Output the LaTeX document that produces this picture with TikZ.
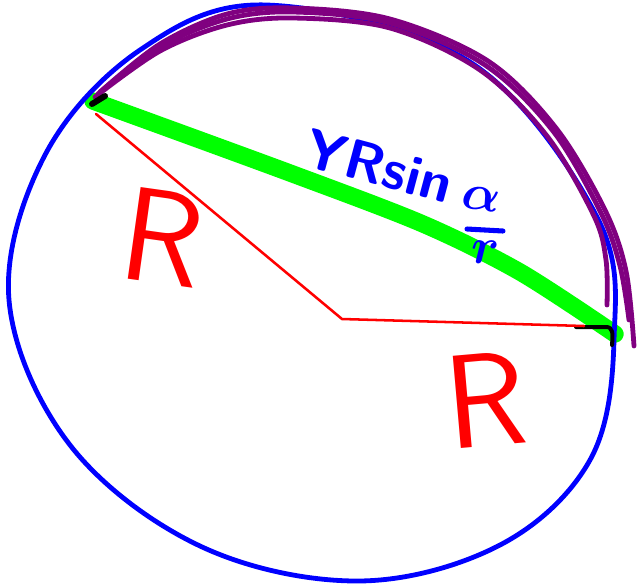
\RequirePackage{fix-cm}
\documentclass[tikz,border=0pt]{standalone}
\begin{document}
\begin{tikzpicture}[x=0.75pt,y=-0.75pt,line cap=round,line join=round]
\definecolor{penblue}{RGB}{0,0,255}
\definecolor{penred}{RGB}{255,0,0}
\definecolor{penpurple}{RGB}{128,0,128}
\definecolor{pengreen}{RGB}{0,255,0}
\tikzset{
  bluepen/.style={draw=penblue,line width=3.6pt},
  greenpen/.style={draw=pengreen,line width=13pt},
  purplepen/.style={draw=penpurple,line width=3.6pt},
  redpen/.style={draw=penred,line width=1.9pt},
  blackpen/.style={draw=black,line width=4.5pt},
  bluetext/.style={text=penblue,font=\sffamily\bfseries\fontsize{42}{42}\selectfont,inner sep=0pt},
  fractext/.style={text=penblue,font=\boldmath\fontsize{38}{38}\selectfont,inner sep=0pt},
  redtext/.style={text=penred,font=\sffamily\fontsize{100}{100}\selectfont,inner sep=0pt},
}
\useasboundingbox (0,0) rectangle (642,587);
\fill[white] (0,0) rectangle (642,587);
% key points
\coordinate (A) at (93,101);
\coordinate (B) at (615,334);
\coordinate (O) at (342,319);
\coordinate (Ar) at (96,114);
\coordinate (Br) at (584,326);
% green chord
\draw[greenpen] plot[smooth,tension=0.5] coordinates {(A) (290,173) (423,224) (520,272) (B)};
% blue circle
\draw[bluepen] plot[smooth cycle,tension=0.6] coordinates {
 (267,5) (470,62) (597,217) (614,340) (590,460) (500,545) (358,581)
 (200,546) (70,445) (9,300) (45,155) (140,50)};
% purple arcs
\draw[purplepen] plot[smooth,tension=0.55] coordinates {(95,97) (160,51) (227,25) (293,18) (390,28) (480,70) (547,136) (594,216) (606,260) (607,305)};
\draw[purplepen] plot[smooth,tension=0.55] coordinates {(98,94) (160,47) (227,19) (293,12) (390,23) (485,65) (553,131) (601,213) (620,266) (629,320)};
\draw[purplepen] plot[smooth,tension=0.55] coordinates {(100,92) (160,44) (227,14) (293,8) (390,19) (488,61) (556,128) (605,210) (626,271) (634,346)};
% black marks
\draw[blackpen] (92,104) -- (105,96);
\draw[blackpen,line width=3pt] (576,327) -- (606,327) .. controls (613,327) and (613,333) .. (612,345);
% red radii
\draw[redpen] (Ar) -- (O) -- (Br);
% labels
\node[bluetext,rotate=-15] (lbl) at (379,166) {YRsin};
\node[fractext,rotate=-8] (alpha) at (481,199) {$\alpha$};
\coordinate (barL) at (467,229);
\coordinate (barR) at (503,231);
\draw[draw=penblue,line width=3.8pt] (barL) -- (barR);
\node[fractext] (rr) at (486,252) {$r$};
\node[redtext,rotate=-8] (R1) at (163,237) {R};
\node[redtext,rotate=5] (R2) at (486,400) {R};
\end{tikzpicture}
\end{document}
